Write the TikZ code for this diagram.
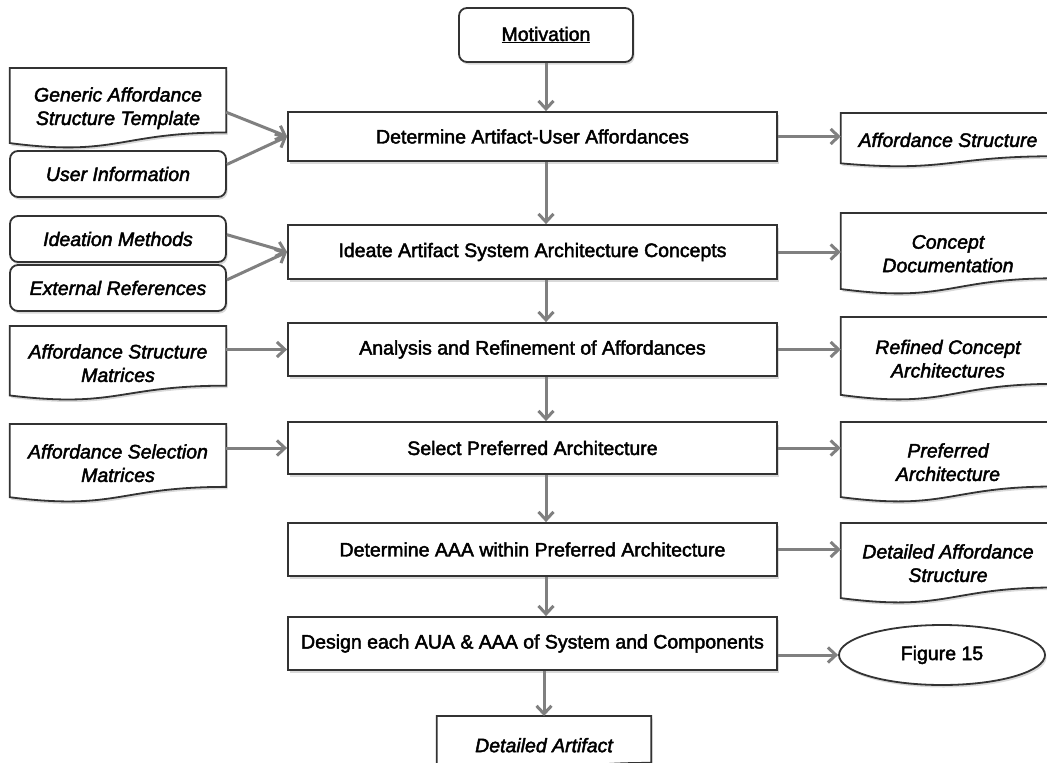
\documentclass[tikz,border=0pt]{standalone}
\usepackage{fontspec}
\setmainfont{Liberation Sans}[FakeBold=2.2]
\usetikzlibrary{arrows.meta,calc,shadows,shapes.geometric,backgrounds}

% outline of a flowchart "document" shape around a node
\newcommand\docoutline[1]{%
  \draw[outl, fill=white, shd]
    (#1.north west) -- (#1.north east)
    -- ($(#1.north east)!0.802!(#1.south east)$)
    .. controls ($(#1.north)!0.802!(#1.south)$) and ($(#1.north)!1.108!(#1.south)$)
    .. ($(#1.north west)!0.934!(#1.south west)$) -- cycle;}

\begin{document}
\begin{tikzpicture}[x=1pt,y=-1pt,
  font=\fontsize{19.5}{23.5}\selectfont,
  outl/.style={draw=black!80, line width=1.8pt},
  shd/.style={drop shadow={shadow xshift=1.5pt, shadow yshift=-2.5pt, fill=black, opacity=0.15}},
  proc/.style={outl, fill=white, shd, minimum width=489pt, minimum height=#1, inner sep=0pt},
  rbox/.style={outl, fill=white, shd, rounded corners=8pt, minimum width=216pt,
    minimum height=46pt, inner sep=0pt, font=\fontsize{19.5}{23.5}\selectfont\itshape},
  docbox/.style={minimum width=#1, inner sep=0pt, align=center, anchor=north,
    font=\fontsize{19.5}{23.5}\selectfont\itshape},
  link/.style={draw=black!50, line width=3pt, -{Straight Barb[length=8pt,width=15pt]}}
]
\useasboundingbox (0,0) rectangle (1047,763);

% main process column
\node[outl, fill=white, shd, rounded corners=8pt, minimum width=174pt, minimum height=54pt]
  (mot) at (546,35) {\underline{Motivation}};
\node[proc=49pt] (b1) at (532.5,136.5) {Determine Artifact-User Affordances};
\node[proc=54pt] (b2) at (532.5,252) {Ideate Artifact System Architecture Concepts};
\node[proc=53pt] (b3) at (532.5,349.5) {Analysis and Refinement of Affordances};
\node[proc=52pt] (b4) at (532.5,448) {Select Preferred Architecture};
\node[proc=53pt] (b5) at (532.5,549.5) {Determine AAA within Preferred Architecture};
\node[proc=53pt] (b6) at (532.5,643.5) {Design each AUA \& AAA of System and Components};
\node[docbox=214pt, minimum height=58pt] (art) at (544,716) {Detailed Artifact};

% inputs
\node[docbox=216pt, minimum height=80pt] (gen) at (118,68) {Generic Affordance\\Structure Template};
\node[rbox] (ui) at (118,174) {User Information};
\node[rbox] (ide) at (118,239) {Ideation Methods};
\node[rbox] (ext) at (118,288) {External References};
\node[docbox=216pt, minimum height=74pt] (asm) at (118,326) {Affordance Structure\\Matrices};
\node[docbox=216pt, minimum height=78pt] (sel) at (118,424) {Affordance Selection\\Matrices};

% outputs
\node[docbox=214pt, minimum height=53.5pt] (as) at (948,113) {Affordance Structure};
\node[docbox=214pt, minimum height=81pt] (cd) at (948,213) {Concept\\Documentation};
\node[docbox=214pt, minimum height=83pt] (rca) at (948,317) {Refined Concept\\Architectures};
\node[docbox=214pt, minimum height=80pt] (pa) at (948,422) {Preferred\\Architecture};
\node[docbox=214pt, minimum height=80pt] (das) at (948,523) {Detailed Affordance\\Structure};
\node[ellipse, outl, fill=white, shd, minimum width=206pt, minimum height=60pt, inner sep=0pt]
  (fig) at (942,655) {Figure 15};

\begin{pgfonlayer}{background}
  \foreach \n in {art,gen,asm,sel,as,cd,rca,pa,das} {\docoutline{\n}}
\end{pgfonlayer}

% flow down the main column
\draw[link] (mot.south) -- (mot.south |- b1.north);
\draw[link] (b1.south -| mot.south) -- (b2.north -| mot.south);
\draw[link] (b2.south -| mot.south) -- (b3.north -| mot.south);
\draw[link] (b3.south -| mot.south) -- (b4.north -| mot.south);
\draw[link] (b4.south -| mot.south) -- (b5.north -| mot.south);
\draw[link] (b5.south -| mot.south) -- (b6.north -| mot.south);
\draw[link] (b6.south -| art.north) -- (art.north);

% inputs into the steps
\draw[link] ($(gen.north east)!0.55!(gen.south east)$) -- (b1.west);
\draw[link] ($(ui.north east)!0.3!(ui.south east)$) -- (b1.west);
\draw[link] ($(ide.north east)!0.41!(ide.south east)$) -- (b2.west);
\draw[link] ($(ext.north east)!0.33!(ext.south east)$) -- (b2.west);
\draw[link] (b3.west -| asm.east) -- (b3.west);
\draw[link] (b4.west -| sel.east) -- (b4.west);

% outputs of the steps
\draw[link] (b1.east) -- (b1.east -| as.west);
\draw[link] (b2.east) -- (b2.east -| cd.west);
\draw[link] (b3.east) -- (b3.east -| rca.west);
\draw[link] (b4.east) -- (b4.east -| pa.west);
\draw[link] (b5.east) -- (b5.east -| das.west);
\draw[link] (b6.east |- fig.west) -- (fig.west);
\end{tikzpicture}
\end{document}
